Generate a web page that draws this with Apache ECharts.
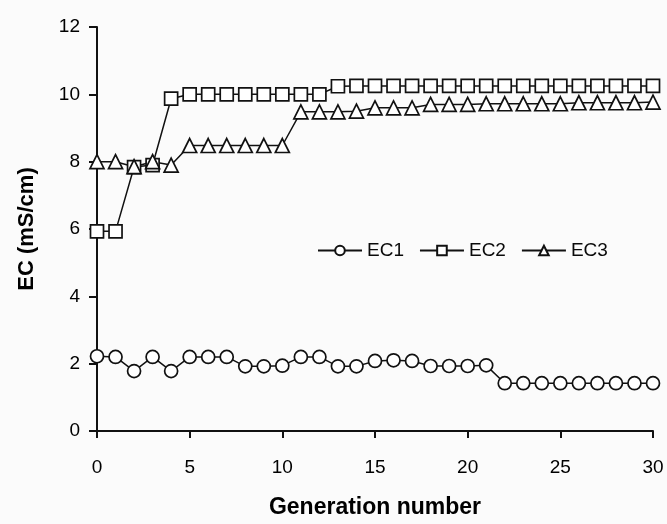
<!DOCTYPE html>
<html><head><meta charset="utf-8">
<script src="https://cdn.jsdelivr.net/npm/echarts@6/dist/echarts.min.js"></script>
<style>html,body{margin:0;padding:0;background:#fbfbfb}#c{width:667px;height:524px}</style>
</head><body><div id="c"></div>
<script>
const generations = [0,1,2,3,4,5,6,7,8,9,10,11,12,13,14,15,16,17,18,19,20,21,22,23,24,25,26,27,28,29,30];
const ec1 = [2.22,2.2,1.78,2.2,1.78,2.2,2.2,2.2,1.92,1.92,1.94,2.2,2.2,1.92,1.92,2.08,2.1,2.08,1.93,1.93,1.93,1.95,1.42,1.42,1.42,1.42,1.42,1.42,1.42,1.42,1.42];
const ec2 = [5.93,5.93,7.84,7.9,9.87,10.0,10.0,10.0,10.0,10.0,10.0,10.0,10.0,10.24,10.25,10.25,10.25,10.25,10.25,10.25,10.25,10.25,10.25,10.25,10.25,10.25,10.25,10.25,10.25,10.25,10.25];
const ec3 = [8.0,8.0,7.85,8.0,7.9,8.48,8.48,8.48,8.48,8.48,8.48,9.48,9.48,9.48,9.5,9.6,9.6,9.6,9.7,9.7,9.7,9.72,9.72,9.72,9.72,9.72,9.75,9.75,9.75,9.75,9.77];
const seriesNames = ['EC1','EC2','EC3'];

const chart = echarts.init(document.getElementById('c'), null, {renderer:'canvas'});
const lab = {color:'#000', fontFamily:'Liberation Sans, Arial', fontSize:19};
function mk(name, vals, sym, size){
  return {name, type:'line', data: generations.map((g,i)=>[g, vals[i]]),
    symbol: sym, symbolSize: size, showSymbol:true,
    lineStyle:{color:'#111', width:1.5},
    itemStyle:{color:'#fff', borderColor:'#111', borderWidth:1.7},
    emphasis:{disabled:true}, animation:false, z:3};
}
chart.setOption({
  backgroundColor:'#fbfbfb',
  animation:false,
  grid:{left:97, right:14, top:27, bottom:89, containLabel:false},
  legend:{
    data: seriesNames, left:312, top:236, itemWidth:44, itemHeight:12, itemGap:15,
    textStyle:{color:'#0a0a0a', fontFamily:'Liberation Sans, Arial', fontSize:19}
  },
  xAxis:{type:'value', min:0, max:30, interval:5,
    name:'Generation number', nameLocation:'middle', nameGap:65,
    nameTextStyle:{color:'#000', fontFamily:'Liberation Sans, Arial', fontSize:23, fontWeight:'bold'},
    axisLine:{show:true, lineStyle:{color:'#111', width:2}},
    axisTick:{show:true, inside:false, length:7, lineStyle:{color:'#111', width:2}},
    axisLabel:Object.assign({margin:27}, lab),
    splitLine:{show:false}},
  yAxis:{type:'value', min:0, max:12, interval:2,
    name:'EC (mS/cm)', nameLocation:'middle', nameGap:59, nameRotate:90,
    nameTextStyle:{color:'#000', fontFamily:'Liberation Sans, Arial', fontSize:22, fontWeight:'bold'},
    axisLine:{show:true, lineStyle:{color:'#111', width:2}},
    axisTick:{show:true, inside:false, length:8, lineStyle:{color:'#111', width:2}},
    axisLabel:Object.assign({margin:17}, lab),
    splitLine:{show:false}},
  series:[mk('EC1', ec1, 'circle', 13), mk('EC2', ec2, 'rect', 13), mk('EC3', ec3, 'triangle', 14)]
});
</script></body></html>
